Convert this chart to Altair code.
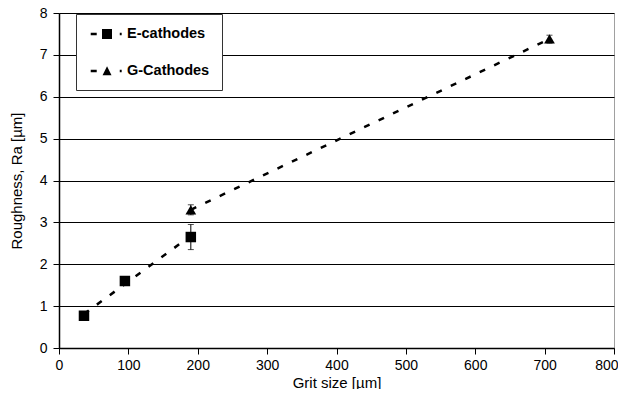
import altair as alt
import pandas as pd

# E-cathodes (squares)
e_x = [36, 95, 190]
e_y = [0.77, 1.60, 2.65]
# G-cathodes (triangles)
g_x = [190, 707]
g_y = [3.30, 7.38]
# error bars
err_x = [190, 190, 707]
err_lo = [2.35, 3.18, 7.28]
err_hi = [2.95, 3.42, 7.47]
# trend lines (dashed)
e_trend_x = [36, 190]
e_trend_y = [0.81, 2.68]
g_trend_x = [190, 707]
g_trend_y = [3.30, 7.38]

series_names = ["E-cathodes", "G-Cathodes"]

pts = pd.DataFrame({
    "x": e_x + g_x,
    "y": e_y + g_y,
    "series": [series_names[0]] * len(e_x) + [series_names[1]] * len(g_x),
})
err = pd.DataFrame({"x": err_x, "lo": err_lo, "hi": err_hi})
trend = pd.DataFrame({
    "x": e_trend_x + g_trend_x,
    "y": e_trend_y + g_trend_y,
    "series": [series_names[0]] * 2 + [series_names[1]] * 2,
})

FONT = "Liberation Sans"

xs = alt.Scale(domain=[0, 800], nice=False)
ys = alt.Scale(domain=[0, 8], nice=False)

xax = alt.Axis(values=list(range(0, 801, 100)), title="Grit size [µm]", grid=False,
               tickSize=6, labelPadding=4, titlePadding=3,
               labelFlush=True, labelFlushOffset=4)
yax = alt.Axis(values=list(range(0, 9)), title="Roughness, Ra [µm]", grid=True,
               tickSize=6, labelPadding=6, titlePadding=15, labelFlush=False)

lines = alt.Chart(trend).mark_line(color="black", strokeWidth=2.5, strokeDash=[6, 10]).encode(
    x=alt.X("x:Q", scale=xs, axis=xax),
    y=alt.Y("y:Q", scale=ys, axis=yax),
    detail="series:N",
)

rules = alt.Chart(err).mark_rule(color="black", strokeWidth=1).encode(
    x="x:Q", y="lo:Q", y2="hi:Q"
)
caps_lo = alt.Chart(err).mark_tick(orient="horizontal", color="black", size=6, thickness=1).encode(
    x="x:Q", y="lo:Q"
)
caps_hi = alt.Chart(err).mark_tick(orient="horizontal", color="black", size=6, thickness=1).encode(
    x="x:Q", y="hi:Q"
)

squares = alt.Chart(pts).transform_filter(
    alt.datum.series == series_names[0]
).mark_point(shape="square", filled=True, color="black", size=110, opacity=1).encode(
    x="x:Q", y="y:Q"
)
triangles = alt.Chart(pts).transform_filter(
    alt.datum.series == series_names[1]
).mark_point(shape="triangle-up", filled=True, color="black", size=115, opacity=1).encode(
    x="x:Q", y="y:Q"
)

# legend glyphs: dash - marker - dash, as filled paths (unit = 8px)
dash_l = "M-0.66,-0.16L0.09,-0.16L0.09,0.16L-0.66,0.16Z"
dash_r = "M2.97,-0.16L3.21,-0.16L3.21,0.16L2.97,0.16Z"
path_e = dash_l + dash_r + "M0.75,-0.62L2.0,-0.62L2.0,0.62L0.75,0.62Z"
path_g = dash_l + dash_r + "M1.38,-0.6L1.94,0.52L0.82,0.52Z"

legend_layer = alt.Chart(pts).mark_point(filled=True, color="black", opacity=0).encode(
    x="x:Q", y="y:Q",
    shape=alt.Shape(
        "series:N",
        scale=alt.Scale(domain=series_names, range=[path_e, path_g]),
        legend=alt.Legend(
            title=None, orient="none", legendX=17, legendY=1,
            symbolSize=256, symbolOpacity=1, symbolFillColor="black",
            symbolStrokeWidth=0,
            labelFont=FONT, labelFontSize=14.5, labelFontWeight="bold", labelColor="black",
            labelExpr="datum.label + '\u00a0\u00a0'",
            labelOffset=23, padding=12, rowPadding=22,
            strokeColor="#333333", fillColor="white",
        ),
    ),
)

chart = alt.layer(lines, rules, caps_lo, caps_hi, squares, triangles, legend_layer).properties(
    width=555, height=335,
    autosize=alt.AutoSizeParams(type="none"),
    padding={"left": 51, "top": 5, "right": 4, "bottom": 41},
).configure_view(
    stroke="#a0a0a0", strokeWidth=1
).configure_axis(
    labelFont=FONT, labelFontSize=14, labelColor="black",
    titleFont=FONT, titleFontSize=15, titleColor="black", titleFontWeight="normal",
    domainColor="black", domainWidth=1.5, tickColor="black", tickWidth=1,
    gridColor="black", gridWidth=1, gridOpacity=1,
)

chart.save("out.html", embed_options={"renderer": "svg", "actions": False})
